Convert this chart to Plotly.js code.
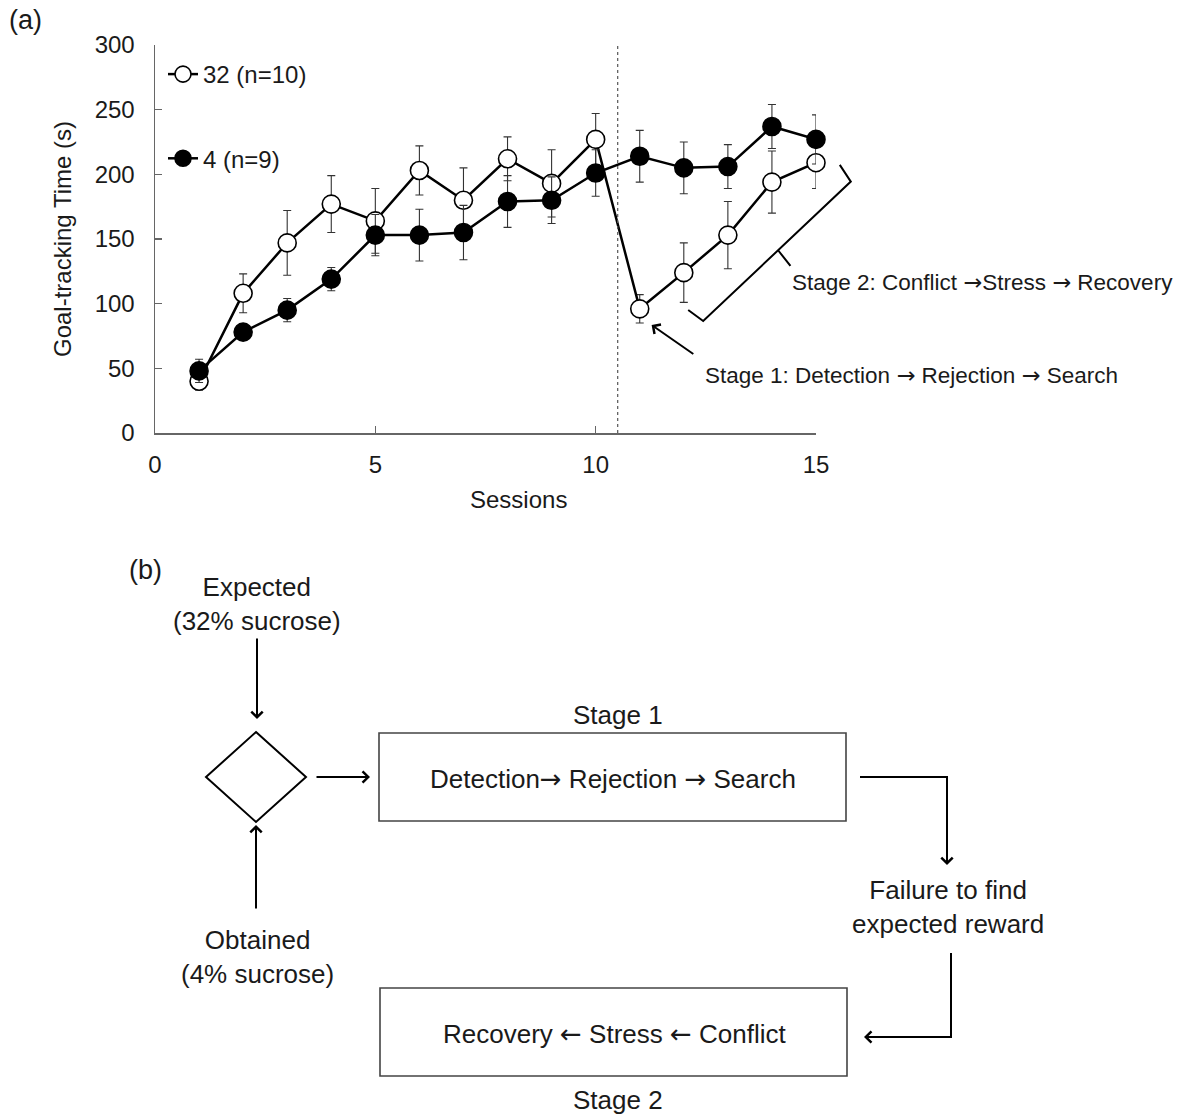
<!DOCTYPE html>
<html>
<head>
<meta charset="utf-8">
<script src="https://cdn.plot.ly/plotly-3.0.1.min.js"></script>
<style>
  html, body { margin: 0; padding: 0; background: #ffffff; }
  #chart { width: 1180px; height: 1114px; }
</style>
</head>
<body>
<div id="chart"></div>
<script>
// ---- Panel (a): goal-tracking time per session (mean ± SEM) ----
const sessions = [1, 2, 3, 4, 5, 6, 7, 8, 9, 10, 11, 12, 13, 14, 15];
const goal32 = [40, 108, 147, 177, 164, 203, 180, 212, 193, 227, 96, 124, 153, 194, 209];
const sem32  = [7, 15, 25, 22, 25, 19, 25, 17, 26, 20, 11, 23, 26, 24, 20];
const goal4  = [48, 78, 95, 119, 153, 153, 155, 179, 180, 201, 214, 205, 206, 237, 227];
const sem4   = [9, 6, 9, 9, 16, 20, 21, 20, 18, 18, 20, 20, 17, 17, 19];
const name32 = '32 (n=10)';
const name4  = '4 (n=9)';
const xTicks = [0, 5, 10, 15];
const yTicks = [0, 50, 100, 150, 200, 250, 300];
const xTitle = 'Sessions';
const yTitle = 'Goal-tracking Time (s)';
const shiftSession = 10.5;     // reward downshift between sessions 10 and 11

// arrows are set in DejaVu Sans, whose arrow glyphs are full-sized
const RA = '<span style="font-family:DejaVu Sans">\u2192</span>';
const LA = '<span style="font-family:DejaVu Sans">\u2190</span>';
const stage1Label = 'Stage 1: Detection ' + RA + ' Rejection ' + RA + ' Search';
const stage2Label = 'Stage 2: Conflict ' + RA + 'Stress ' + RA + ' Recovery';

// ---- Panel (b): flow diagram labels ----
const expectedLabel = ['Expected', '(32% sucrose)'];
const obtainedLabel = ['Obtained', '(4% sucrose)'];
const stage1Title = 'Stage 1';
const stage1Steps = 'Detection' + RA + ' Rejection ' + RA + ' Search';
const failureLabel = ['Failure to find', 'expected reward'];
const stage2Steps = 'Recovery ' + LA + ' Stress ' + LA + ' Conflict';
const stage2Title = 'Stage 2';

// ---- geometry ----
const W = 1180, H = 1114;
const FONT = '"Liberation Sans", Arial, Helvetica, sans-serif';
const INK = '#1a1a1a';
const xRange = [0, 15];
const yRange = [0, 300];
const px = v => v / W;            // page pixel -> paper x
const py = v => 1 - v / H;        // page pixel -> paper y
// data value -> fraction of the axis domain (for unclipped shapes)
const dx = v => (v - xRange[0]) / (xRange[1] - xRange[0]);
const dy = v => (v - yRange[0]) / (yRange[1] - yRange[0]);

const traces = [
  {
    x: sessions, y: goal32, name: name32, legendgroup: 'g32',
    type: 'scatter', mode: 'lines+markers', cliponaxis: false,
    line: { color: '#000', width: 2.5 },
    marker: { symbol: 'circle', size: 18, color: '#ffffff', line: { color: '#000', width: 1.6 } },
    error_y: { type: 'data', array: sem32, visible: true, color: '#333', thickness: 1.1, width: 4 },
    hoverinfo: 'x+y'
  },
  {
    x: sessions, y: goal4, name: name4, legendgroup: 'g4',
    type: 'scatter', mode: 'lines+markers', cliponaxis: false,
    line: { color: '#000', width: 2.5 },
    marker: { symbol: 'circle', size: 18, color: '#000', line: { color: '#000', width: 1.6 } },
    error_y: { type: 'data', array: sem4, visible: true, color: '#333', thickness: 1.1, width: 4 },
    hoverinfo: 'x+y'
  }
];

const boxLine = { color: '#444', width: 1.6 };
const flowLine = { color: '#000', width: 2 };

const shapes = [
  // session 10/11 divider
  { type: 'line', xref: 'x', yref: 'y domain', x0: shiftSession, x1: shiftSession, y0: 0, y1: 1,
    line: { color: '#555', width: 1.2, dash: 'dot' } },
  // bracket spanning the stage-2 recovery
  { type: 'path', xref: 'x domain', yref: 'y domain',
    path: `M${dx(12.10)},${dy(95.1)} L${dx(12.44)},${dy(86.6)} L${dx(15.79)},${dy(194.4)} L${dx(15.54)},${dy(207.3)}` +
          ` M${dx(14.14)},${dy(141.3)} L${dx(14.42)},${dy(129.2)}`,
    line: { color: '#000', width: 2 } },
  // comparator diamond
  { type: 'path', xref: 'paper', yref: 'paper',
    path: `M${px(256)},${py(732)} L${px(306)},${py(777)} L${px(256)},${py(822)} L${px(206)},${py(777)} Z`,
    line: flowLine },
  // stage boxes
  { type: 'rect', xref: 'paper', yref: 'paper', x0: px(379), x1: px(846), y0: py(733), y1: py(821), line: boxLine },
  { type: 'rect', xref: 'paper', yref: 'paper', x0: px(380), x1: px(847), y0: py(988), y1: py(1076), line: boxLine },
  // elbow connectors
  { type: 'path', xref: 'paper', yref: 'paper',
    path: `M${px(860)},${py(777)} L${px(947)},${py(777)} L${px(947)},${py(850)}`, line: flowLine },
  { type: 'path', xref: 'paper', yref: 'paper',
    path: `M${px(951)},${py(953)} L${px(951)},${py(1037)} L${px(880)},${py(1037)}`, line: flowLine }
];

const txt = (x, y, text, size, extra) => Object.assign({
  xref: 'paper', yref: 'paper', x: px(x), y: py(y), text: text, showarrow: false,
  xanchor: 'center', yanchor: 'middle', font: { family: FONT, size: size, color: INK }
}, extra || {});

const arrowTo = (x, y, axOff, ayOff) => ({
  xref: 'paper', yref: 'paper', x: px(x), y: py(y), ax: axOff, ay: ayOff, text: '',
  showarrow: true, arrowhead: 4, arrowsize: 1.1, arrowwidth: 2, arrowcolor: '#000', standoff: 0
});

const annotations = [
  txt(25, 20, '(a)', 27),
  txt(145, 570, '(b)', 27),
  // x-axis title, set right of the axis centre
  txt(518, 499, xTitle, 24),
  // stage labels in panel (a)
  txt(790, 282, stage2Label, 22.5, { xanchor: 'left' }),
  txt(703, 375, stage1Label, 22.5, { xanchor: 'left' }),
  { xref: 'x', yref: 'y', axref: 'x', ayref: 'y', x: 11.27, y: 83.5, ax: 12.25, ay: 60.3,
    text: '', showarrow: true, arrowhead: 4, arrowsize: 1.1, arrowwidth: 2, arrowcolor: '#000', standoff: 0 },
  // flow diagram
  txt(257, 604, expectedLabel.join('<br>'), 26),
  txt(257, 957, obtainedLabel.join('<br>'), 26),
  arrowTo(257, 719, 0, -82),
  arrowTo(256, 825, 0, 85),
  arrowTo(370, 777, -55, 0),
  txt(618, 715, stage1Title, 26),
  txt(613, 779, stage1Steps, 26),
  arrowTo(947, 865, 0, -20),
  txt(948, 907, failureLabel.join('<br>'), 26),
  arrowTo(864, 1037, 20, 0),
  txt(614, 1034, stage2Steps, 26),
  txt(618, 1100, stage2Title, 26)
];

const axisCommon = {
  showgrid: false, zeroline: false, showline: true, linecolor: '#666', linewidth: 1.5,
  ticks: 'inside', ticklen: 7, tickwidth: 1.2, tickcolor: '#666',
  tickfont: { family: FONT, size: 24, color: INK }, automargin: false, fixedrange: true
};

const layout = {
  width: W, height: H,
  margin: { l: 0, r: 0, t: 0, b: 0 },
  paper_bgcolor: '#ffffff', plot_bgcolor: '#ffffff',
  font: { family: FONT, color: INK },
  showlegend: true,
  legend: {
    x: px(163), y: py(52), xanchor: 'left', yanchor: 'top',
    bgcolor: 'rgba(0,0,0,0)', borderwidth: 0,
    font: { family: FONT, size: 24, color: INK },
    tracegroupgap: 50, itemclick: false, itemdoubleclick: false
  },
  xaxis: Object.assign({}, axisCommon, {
    domain: [px(155), px(816)], range: xRange,
    tickvals: xTicks, ticktext: xTicks.map(String), ticklabelstandoff: 10
  }),
  yaxis: Object.assign({}, axisCommon, {
    domain: [py(433), py(45)], range: yRange,
    tickvals: yTicks, ticktext: yTicks.map(String), ticklabelstandoff: 14,
    title: { text: yTitle, font: { family: FONT, size: 24, color: INK }, standoff: 16 }
  }),
  shapes: shapes,
  annotations: annotations
};

Plotly.newPlot('chart', traces, layout, { displayModeBar: false, staticPlot: true });
</script>
</body>
</html>
